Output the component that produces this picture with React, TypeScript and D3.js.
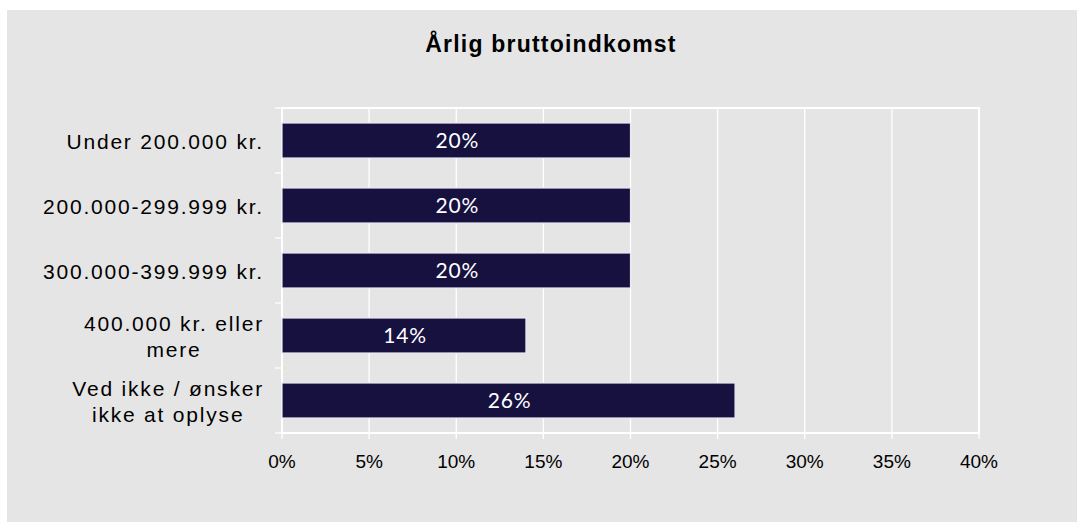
import { useEffect, useRef } from "react";
import * as d3 from "d3";

// chart data
const title = "Årlig bruttoindkomst";
const categories: string[][] = [
  ["Under 200.000 kr."],
  ["200.000-299.999 kr."],
  ["300.000-399.999 kr."],
  ["400.000 kr. eller", "mere"],
  ["Ved ikke / ønsker", "ikke at oplyse"],
];
const values = [20, 20, 20, 14, 26];
const xTicks = [0, 5, 10, 15, 20, 25, 30, 35, 40];

const App = () => {
  const ref = useRef<SVGSVGElement | null>(null);

  useEffect(() => {
    document.body.style.margin = "0";
    document.body.style.overflow = "hidden";

    const width = 1077,
      height = 522;
    const margin = { top: 108, right: 98, bottom: 89, left: 282 };
    const svg = d3.select(ref.current);
    svg.selectAll("*").remove();

    // background panel
    svg.append("rect")
      .attr("x", 7)
      .attr("y", 10)
      .attr("width", width - 7)
      .attr("height", height - 10)
      .attr("fill", "#e5e5e5");

    svg.append("text")
      .attr("x", 551)
      .attr("y", 52)
      .attr("text-anchor", "middle")
      .attr("font-family", "'Liberation Sans', Arial, sans-serif")
      .attr("font-weight", "bold")
      .attr("font-size", 23)
      .attr("letter-spacing", 1.2)
      .attr("fill", "#000")
      .text(title);

    const x = d3.scaleLinear()
      .domain([0, 40])
      .range([margin.left, width - margin.right]);
    const y = d3.scaleBand<number>()
      .domain(values.map((_, i) => i))
      .range([margin.top, height - margin.bottom])
      .paddingInner(0.4615)
      .paddingOuter(0.2308);
    const band = (height - margin.bottom - margin.top) / categories.length;

    const g = svg.append("g");

    // vertical gridlines
    g.selectAll("line.grid")
      .data(xTicks.slice(1, -1))
      .join("line")
      .attr("x1", (d) => x(d))
      .attr("x2", (d) => x(d))
      .attr("y1", margin.top)
      .attr("y2", height - margin.bottom)
      .attr("stroke", "#fff")
      .attr("stroke-width", 1.3);

    // plot frame
    g.append("rect")
      .attr("x", x(0))
      .attr("y", margin.top)
      .attr("width", x(40) - x(0))
      .attr("height", height - margin.bottom - margin.top)
      .attr("fill", "none")
      .attr("stroke", "#fff")
      .attr("stroke-width", 2);

    // bottom ticks
    g.selectAll("line.xt")
      .data(xTicks)
      .join("line")
      .attr("x1", (d) => x(d))
      .attr("x2", (d) => x(d))
      .attr("y1", height - margin.bottom)
      .attr("y2", height - margin.bottom + 6)
      .attr("stroke", "#fff")
      .attr("stroke-width", 1.3);

    g.selectAll("text.xt")
      .data(xTicks)
      .join("text")
      .attr("x", (d) => x(d))
      .attr("y", 468)
      .attr("text-anchor", "middle")
      .attr("font-family", "'Liberation Sans', Arial, sans-serif")
      .attr("font-size", 19)
      .attr("fill", "#000")
      .text((d) => d + "%");

    // left ticks on category boundaries
    g.selectAll("line.yt")
      .data(d3.range(categories.length + 1))
      .join("line")
      .attr("x1", margin.left - 7)
      .attr("x2", margin.left)
      .attr("y1", (i) => margin.top + i * band)
      .attr("y2", (i) => margin.top + i * band)
      .attr("stroke", "#fff")
      .attr("stroke-width", 1.3);

    // bars
    g.selectAll("rect.bar")
      .data(values)
      .join("rect")
      .attr("x", x(0))
      .attr("y", (_, i) => y(i)!)
      .attr("width", (d) => x(d) - x(0))
      .attr("height", y.bandwidth())
      .attr("fill", "#16113f")
      .attr("stroke", "#e8e8f4")
      .attr("stroke-width", 1.2);

    g.selectAll("text.val")
      .data(values)
      .join("text")
      .attr("x", (d) => (x(d) + x(0)) / 2 + 1)
      .attr("y", (_, i) => y(i)! + y.bandwidth() / 2 + 7.5)
      .attr("text-anchor", "middle")
      .attr("font-family", "Lato, 'Liberation Sans', sans-serif")
      .attr("font-size", 21)
      .attr("letter-spacing", 0.8)
      .attr("fill", "#fff")
      .text((d) => d + "%");

    // category labels, lines centred on each other, block right aligned
    const right = 264;
    categories.forEach((lines, i) => {
      const cy = margin.top + (i + 0.5) * band;
      const t = g.append("text")
        .attr("font-family", "'Liberation Sans', Arial, sans-serif")
        .attr("font-size", 21)
        .attr("letter-spacing", 1.8)
        .attr("fill", "#000")
        .attr("text-anchor", "middle");
      const spans = lines.map((l, k) =>
        t.append("tspan")
          .attr("y", lines.length === 1 ? cy + 8.5 : cy - 5 + k * 26)
          .text(l)
      );
      const widths = spans.map((s) => (s.node() as SVGTSpanElement).getComputedTextLength());
      const maxW = d3.max(widths) || 0;
      spans.forEach((s) => s.attr("x", right - maxW / 2));
    });
  }, []);

  return (
    <svg
      ref={ref}
      width={1077}
      height={522}
      style={{ position: "absolute", left: 0, top: 0 }}
    />
  );
};

export default App;
